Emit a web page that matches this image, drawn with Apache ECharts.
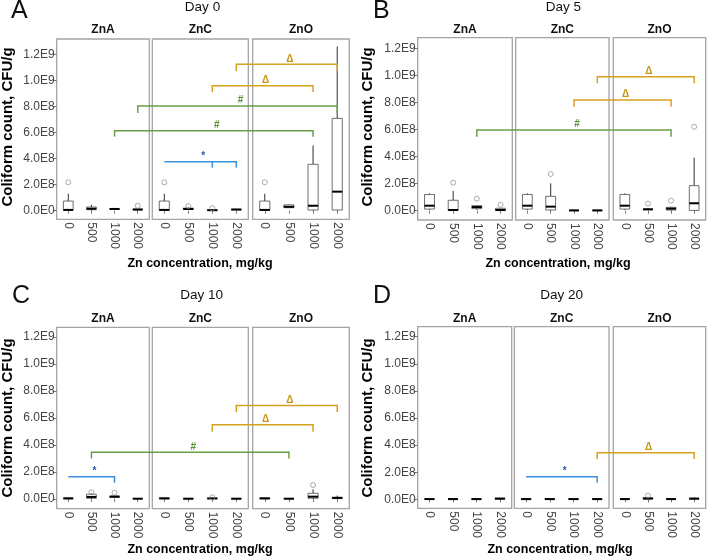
<!DOCTYPE html>
<html><head><meta charset="utf-8">
<script src="https://cdn.jsdelivr.net/npm/echarts@6/dist/echarts.min.js"></script>
<style>html,body{margin:0;padding:0;background:#fff}#c{width:709px;height:558px}</style>
</head><body><div id="c"></div><script>
// ---------------- data ----------------
const categories = ['0', '500', '1000', '2000'];
const facetNames = ['ZnA', 'ZnC', 'ZnO'];
const dayTitles = ['Day 0', 'Day 5', 'Day 10', 'Day 20'];
const panelLetters = ['A', 'B', 'C', 'D'];
const yTickValues = [0, 2e8, 4e8, 6e8, 8e8, 1e9, 1.2e9];
const yTickLabels = ['0.0E0', '2.0E8', '4.0E8', '6.0E8', '8.0E8', '1.0E9', '1.2E9'];
const yAxisTitle = 'Coliform count, CFU/g';
const xAxisTitle = 'Zn concentration, mg/kg';

// box statistics per category: [min, Q1, median, Q3, max]
const day0_ZnA = [[0, 2e6, 6e6, 7.4e7, 1.3e8], [0, 8e6, 1.5e7, 2.8e7, 4.5e7], [5e6, 1e7, 1.3e7, 1.7e7, 2.2e7], [3e6, 6e6, 9e6, 1.2e7, 1.6e7]];
const day0_ZnC = [[0, 2e6, 6e6, 7.4e7, 1.3e8], [5e6, 1e7, 1.3e7, 2e7, 2.5e7], [0, 2e6, 4e6, 6e6, 8e6], [5e6, 7e6, 9e6, 1.1e7, 1.3e7]];
const day0_ZnO = [[0, 2e6, 6e6, 7.4e7, 1.3e8], [2e7, 2.3e7, 3e7, 4.5e7, 4.8e7], [0, 5e6, 3.8e7, 3.56e8, 5e8], [0, 5e6, 1.46e8, 7.08e8, 1.26e9]];
const day5_ZnA = [[5e6, 1.2e7, 3.7e7, 1.2e8, 1.28e8], [0, 3e6, 5e6, 7.7e7, 1.46e8], [5e6, 1.5e7, 2.7e7, 3.7e7, 4e7], [0, 1e6, 5e6, 1.8e7, 2e7]];
const day5_ZnC = [[5e6, 1.2e7, 3.7e7, 1.2e8, 1.28e8], [0, 5e6, 3e7, 1.06e8, 2.02e8], [0, 1e6, 2e6, 4e6, 5e6], [0, 1e6, 2e6, 4e6, 5e6]];
const day5_ZnO = [[5e6, 1.2e7, 3.7e7, 1.2e8, 1.28e8], [5e6, 8e6, 1e7, 1.3e7, 1.8e7], [0, 5e6, 1.5e7, 2.5e7, 2.8e7], [0, 2e6, 5.5e7, 1.85e8, 3.92e8]];
const day10_ZnA = [[0, 2e6, 4e6, 8e6, 1e7], [0, 5e6, 1.5e7, 3.5e7, 4.2e7], [5e6, 1.2e7, 1.7e7, 2.2e7, 2.8e7], [0, 1e6, 2e6, 3e6, 4e6]];
const day10_ZnC = [[0, 2e6, 4e6, 8e6, 1e7], [0, 1e6, 2e6, 3e6, 4e6], [0, 2e6, 4e6, 6e6, 8e6], [0, 1e6, 2e6, 3e6, 4e6]];
const day10_ZnO = [[0, 2e6, 4e6, 8e6, 1e7], [0, 1e6, 2e6, 3e6, 4e6], [0, 5e6, 1.7e7, 4.2e7, 7.1e7], [0, 3e6, 8e6, 1.2e7, 2.5e7]];
const day20_ZnA = [[0, 1e6, 2e6, 3e6, 4e6], [0, 1e6, 2e6, 3e6, 4e6], [0, 1e6, 2e6, 3e6, 4e6], [0, 2e6, 5e6, 9e6, 1.2e7]];
const day20_ZnC = [[0, 1e6, 2e6, 3e6, 4e6], [0, 1e6, 2e6, 3e6, 4e6], [0, 1e6, 2e6, 3e6, 4e6], [0, 1e6, 2e6, 3e6, 4e6]];
const day20_ZnO = [[0, 1e6, 2e6, 3e6, 4e6], [0, 3e6, 6e6, 1.2e7, 1.8e7], [0, 1e6, 2e6, 3e6, 4e6], [0, 2e6, 5e6, 9e6, 1.2e7]];

// outliers: [category, value]
const day0_ZnA_out = [['0', 2.18e8], ['2000', 3.8e7]];
const day0_ZnC_out = [['0', 2.18e8], ['500', 3.5e7], ['1000', 1.9e7]];
const day0_ZnO_out = [['0', 2.18e8]];
const day5_ZnA_out = [['500', 2.07e8], ['1000', 8.9e7], ['2000', 4.4e7]];
const day5_ZnC_out = [['500', 2.71e8]];
const day5_ZnO_out = [['500', 5.2e7], ['1000', 7.4e7], ['2000', 6.2e8]];
const day10_ZnA_out = [['500', 5e7], ['1000', 4.6e7]];
const day10_ZnC_out = [['1000', 1.2e7]];
const day10_ZnO_out = [['1000', 1.03e8]];
const day20_ZnA_out = [];
const day20_ZnC_out = [];
const day20_ZnO_out = [['500', 2.8e7]];

// significance brackets: [kind, fromFacet, fromCat, toFacet, toCat, level, dropTo, dropAt]
const day0_brackets = [
  ['delta', 'ZnC', '2000', 'ZnO', '2000', 1.123e9, 1.07e9, [['ZnC', '2000'], ['ZnO', '2000']]],
  ['delta', 'ZnC', '1000', 'ZnO', '1000', 9.59e8, 9.1e8, [['ZnC', '1000'], ['ZnO', '1000']]],
  ['hash', 'ZnA', '2000', 'ZnO', '2000', 8.03e8, 7.5e8, [['ZnA', '2000'], ['ZnO', '2000']]],
  ['hash', 'ZnA', '1000', 'ZnO', '1000', 6.14e8, 5.68e8, [['ZnA', '1000'], ['ZnO', '1000']]],
  ['star', 'ZnC', '0', 'ZnC', '2000', 3.76e8, 3.3e8, [['ZnC', '1000'], ['ZnC', '2000']]]
];
const day5_brackets = [
  ['delta', 'ZnC', '2000', 'ZnO', '2000', 9.9e8, 9.41e8, [['ZnC', '2000'], ['ZnO', '2000']]],
  ['delta', 'ZnC', '1000', 'ZnO', '1000', 8.18e8, 7.68e8, [['ZnC', '1000'], ['ZnO', '1000']]],
  ['hash', 'ZnA', '1000', 'ZnO', '1000', 5.96e8, 5.47e8, [['ZnA', '1000'], ['ZnO', '1000']]]
];
const day10_brackets = [
  ['delta', 'ZnC', '2000', 'ZnO', '2000', 6.92e8, 6.43e8, [['ZnC', '2000'], ['ZnO', '2000']]],
  ['delta', 'ZnC', '1000', 'ZnO', '1000', 5.49e8, 4.98e8, [['ZnC', '1000'], ['ZnO', '1000']]],
  ['hash', 'ZnA', '500', 'ZnO', '500', 3.45e8, 3.0e8, [['ZnA', '500'], ['ZnO', '500']]],
  ['star', 'ZnA', '0', 'ZnA', '1000', 1.65e8, 1.2e8, [['ZnA', '1000']]]
];
const day20_brackets = [
  ['delta', 'ZnC', '2000', 'ZnO', '2000', 3.44e8, 2.98e8, [['ZnC', '2000'], ['ZnO', '2000']]],
  ['star', 'ZnC', '0', 'ZnC', '2000', 1.67e8, 1.25e8, [['ZnC', '2000']]]
];

const boxData = [[day0_ZnA, day0_ZnC, day0_ZnO], [day5_ZnA, day5_ZnC, day5_ZnO], [day10_ZnA, day10_ZnC, day10_ZnO], [day20_ZnA, day20_ZnC, day20_ZnO]];
const outData = [[day0_ZnA_out, day0_ZnC_out, day0_ZnO_out], [day5_ZnA_out, day5_ZnC_out, day5_ZnO_out], [day10_ZnA_out, day10_ZnC_out, day10_ZnO_out], [day20_ZnA_out, day20_ZnC_out, day20_ZnO_out]];
const bracketData = [day0_brackets, day5_brackets, day10_brackets, day20_brackets];

// ---------------- layout & style ----------------
const FONT = '"Liberation Sans", Arial, Helvetica, sans-serif';
const layout = [
  {fx: [[56.7, 149.3], [152.3, 248.3], [252.7, 349.3]], top: 39, bottom: 219.3, ymin: -6.6e7, ymax: 1.317e9,
   letter: [11, 11.5], title: [202.5, 7.5], strip: 30, xTitle: [200, 263.3], yTitle: [8, 127]},
  {fx: [[417.7, 512.3], [515.7, 609], [613.3, 705.7]], top: 37.7, bottom: 220, ymin: -6.87e7, ymax: 1.278e9,
   letter: [373, 11], title: [563.3, 7.5], strip: 30, xTitle: [558, 263.3], yTitle: [368, 127]},
  {fx: [[56.7, 149.3], [152.3, 248.3], [252.7, 349.3]], top: 327.3, bottom: 508.7, ymin: -7.2e7, ymax: 1.27e9,
   letter: [12, 296.5], title: [201.7, 295.5], strip: 318.3, xTitle: [200, 549.3], yTitle: [8, 418]},
  {fx: [[417.7, 511.7], [514.3, 609], [613.3, 705.7]], top: 326.7, bottom: 508.3, ymin: -6.6e7, ymax: 1.274e9,
   letter: [373, 296.5], title: [561.7, 295.5], strip: 318.3, xTitle: [560, 549.3], yTitle: [368, 418]}
];
const bracketStyle = {
  delta: {line: '#d6a21e', text: '#c99514', sym: '\u0394'},
  hash: {line: '#6a9e45', text: '#5a8f38', sym: '#'},
  star: {line: '#3b90dc', text: '#2f55a8', sym: '*'}
};

const chart = echarts.init(document.getElementById('c'), null, {renderer: 'canvas'});
const grids = [], xAxes = [], yAxes = [], series = [];

function renderBox(params, api) {
  const ci = api.value(0);
  const pMin = api.coord([ci, api.value(1)]);
  const pQ1 = api.coord([ci, api.value(2)]);
  const pMed = api.coord([ci, api.value(3)]);
  const pQ3 = api.coord([ci, api.value(4)]);
  const pMax = api.coord([ci, api.value(5)]);
  const bw = api.size([1, 0])[0] * 0.42;
  const h = bw / 2, cx = pMin[0];
  const ws = {stroke: '#2b2b2b', lineWidth: 1};
  return {type: 'group', children: [
    {type: 'line', shape: {x1: cx, y1: pMax[1], x2: cx, y2: pQ3[1]}, style: ws},
    {type: 'line', shape: {x1: cx, y1: pQ1[1], x2: cx, y2: pMin[1]}, style: ws},
    {type: 'rect', shape: {x: cx - h, y: pQ3[1], width: bw, height: Math.max(pQ1[1] - pQ3[1], 0)},
     style: {fill: '#fff', stroke: '#4a4a4a', lineWidth: 0.8}},
    {type: 'line', shape: {x1: cx - h, y1: pMed[1], x2: cx + h, y2: pMed[1]}, style: {stroke: '#000', lineWidth: 2}}
  ]};
}

layout.forEach((L, p) => {
  L.fx.forEach((fx, f) => {
    const g = p * 3 + f;
    grids.push({left: fx[0], top: L.top, width: fx[1] - fx[0], height: L.bottom - L.top,
      show: true, borderColor: '#a4a4a4', borderWidth: 1.3, backgroundColor: 'transparent',
      containLabel: false, outerBoundsMode: 'none'});
    xAxes.push({gridIndex: g, type: 'category', data: categories, boundaryGap: true,
      axisLine: {show: false}, splitLine: {show: false},
      axisTick: {show: true, alignWithLabel: true, length: 3, lineStyle: {color: '#7a7a7a', width: 1}},
      axisLabel: {interval: 0, rotate: -90, margin: 3, fontSize: 12, color: '#444', fontFamily: FONT}});
    yAxes.push({gridIndex: g, type: 'value', min: L.ymin, max: L.ymax,
      axisLine: {show: false}, splitLine: {show: false},
      axisTick: {show: f === 0, length: 4, customValues: yTickValues, lineStyle: {color: '#7a7a7a', width: 1}},
      axisLabel: {show: f === 0, customValues: yTickValues, margin: 2, fontSize: 12, color: '#444', fontFamily: FONT,
        formatter: v => { const i = yTickValues.indexOf(v); return i >= 0 ? yTickLabels[i] : ''; }}});
    series.push({type: 'custom', xAxisIndex: g, yAxisIndex: g, renderItem: renderBox, silent: true,
      dimensions: ['cat', 'min', 'q1', 'med', 'q3', 'max'], encode: {x: 0, y: [1, 2, 3, 4, 5]},
      data: boxData[p][f].map((s, i) => [i].concat(s))});
    series.push({type: 'scatter', xAxisIndex: g, yAxisIndex: g, silent: true, symbol: 'circle', symbolSize: 5,
      itemStyle: {color: 'rgba(255,255,255,0)', borderColor: '#8c8c8c', borderWidth: 0.9}, z: 3,
      data: outData[p][f].map(o => [categories.indexOf(o[0]), o[1]])});
  });
});

chart.setOption({animation: false, backgroundColor: '#fff', grid: grids, xAxis: xAxes, yAxis: yAxes, series: series});

// ---------------- annotations ----------------
const gfx = [];
function txt(x, y, text, font, fill, align, extra) {
  return Object.assign({type: 'text', x: x, y: y, silent: true, z: 10,
    style: {text: text, font: font, fill: fill, align: align || 'center', verticalAlign: 'middle'}}, extra || {});
}
layout.forEach((L, p) => {
  gfx.push(txt(L.letter[0], L.letter[1], panelLetters[p], '25px ' + FONT, '#111', 'left'));
  gfx.push(txt(L.title[0], L.title[1], dayTitles[p], '13.5px ' + FONT, '#111'));
  L.fx.forEach((fx, f) => gfx.push(txt((fx[0] + fx[1]) / 2, L.strip, facetNames[f], 'bold 12px ' + FONT, '#111')));
  gfx.push(txt(L.xTitle[0], L.xTitle[1], xAxisTitle, 'bold 12.5px ' + FONT, '#000'));
  gfx.push(txt(L.yTitle[0], L.yTitle[1], yAxisTitle, 'bold 15px ' + FONT, '#000', 'center', {rotation: Math.PI / 2}));

  bracketData[p].forEach(b => {
    const st = bracketStyle[b[0]];
    const pt = (facet, cat, v) => chart.convertToPixel({gridIndex: p * 3 + facetNames.indexOf(facet)}, [categories.indexOf(cat), v]);
    const a = pt(b[1], b[2], b[5]), c = pt(b[3], b[4], b[5]);
    gfx.push({type: 'line', silent: true, z: 9, shape: {x1: a[0], y1: a[1], x2: c[0], y2: c[1]},
      style: {stroke: st.line, lineWidth: 1.5}});
    b[7].forEach(d => {
      const top = pt(d[0], d[1], b[5]), bot = pt(d[0], d[1], b[6]);
      gfx.push({type: 'line', silent: true, z: 9, shape: {x1: top[0], y1: top[1] - 0.75, x2: bot[0], y2: bot[1]},
        style: {stroke: st.line, lineWidth: 1.5}});
    });
    gfx.push(txt((a[0] + c[0]) / 2 + 3, a[1] - 5.5, st.sym, 'bold 10px ' + FONT, st.text));
  });
});
chart.setOption({graphic: {elements: gfx}});
</script></body></html>
